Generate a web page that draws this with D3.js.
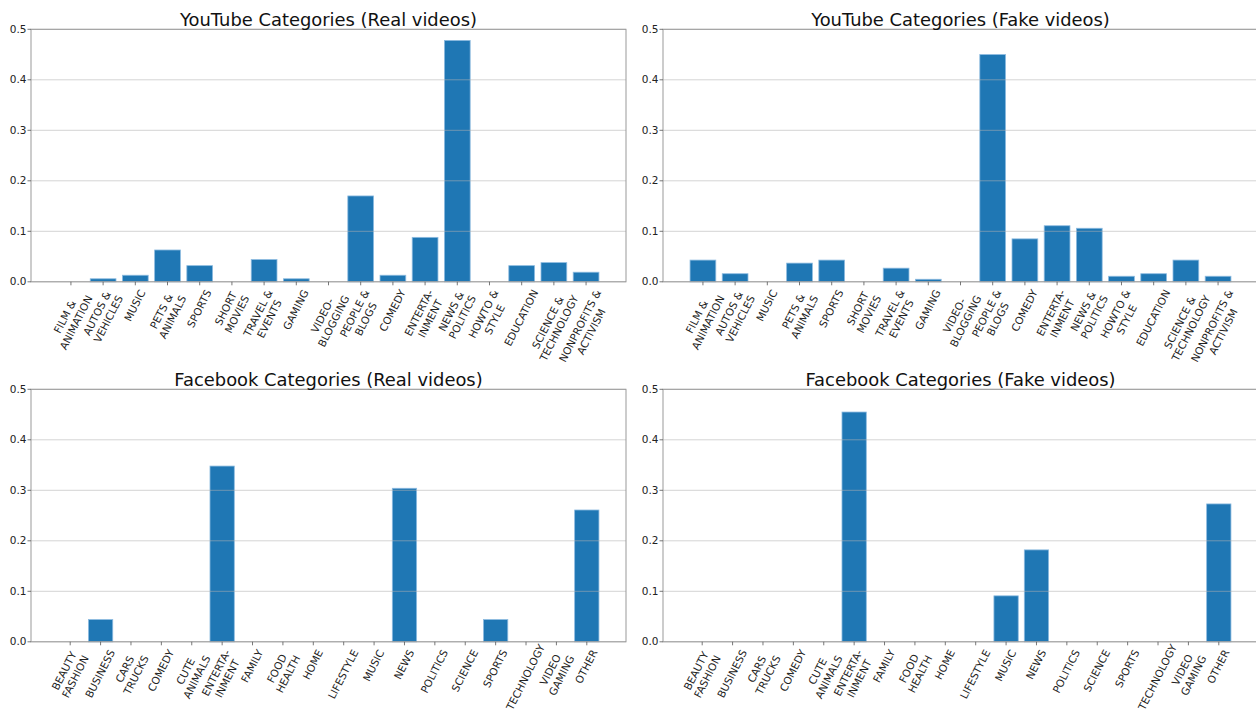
<!DOCTYPE html>
<html><head><meta charset="utf-8">
<script src="https://cdn.jsdelivr.net/npm/d3@7"></script>
<style>body{margin:0;background:#fff}svg{display:block;font-family:"DejaVu Sans",sans-serif}</style>
</head><body><svg id="c" width="1256" height="714"></svg>
<script>
const ytCategories = ["FILM &\nANIMATION", "AUTOS &\nVEHICLES", "MUSIC", "PETS &\nANIMALS", "SPORTS", "SHORT\nMOVIES", "TRAVEL &\nEVENTS", "GAMING", "VIDEO-\nBLOGGING", "PEOPLE &\nBLOGS", "COMEDY", "ENTERTA-\nINMENT", "NEWS &\nPOLITICS", "HOWTO &\nSTYLE", "EDUCATION", "SCIENCE &\nTECHNOLOGY", "NONPROFITS &\nACTIVISM"];
const ytReal = [0, 0.006, 0.013, 0.063, 0.032, 0, 0.044, 0.006, 0, 0.170, 0.013, 0.088, 0.478, 0, 0.032, 0.038, 0.019];
const ytFake = [0.043, 0.016, 0, 0.037, 0.043, 0, 0.027, 0.005, 0, 0.450, 0.085, 0.111, 0.106, 0.011, 0.016, 0.043, 0.011];
const fbCategories = ["BEAUTY\nFASHION", "BUSINESS", "CARS\nTRUCKS", "COMEDY", "CUTE\nANIMALS", "ENTERTA-\nINMENT", "FAMILY", "FOOD\nHEALTH", "HOME", "LIFESTYLE", "MUSIC", "NEWS", "POLITICS", "SCIENCE", "SPORTS", "TECHNOLOGY", "VIDEO\nGAMING", "OTHER"];
const fbReal = [0, 0.044, 0, 0, 0, 0.348, 0, 0, 0, 0, 0, 0.304, 0, 0, 0.044, 0, 0, 0.261];
const fbFake = [0, 0, 0, 0, 0, 0.455, 0, 0, 0, 0, 0.091, 0.182, 0, 0, 0, 0, 0, 0.273];
const yTicks = [0, 0.1, 0.2, 0.3, 0.4, 0.5];
const panelTitles = ["YouTube Categories (Real videos)", "YouTube Categories (Fake videos)", "Facebook Categories (Real videos)", "Facebook Categories (Fake videos)"];

const svg = d3.select("#c");
const BAR = "#1f77b4";
const W = 595, H = 252.5;
const ANG = 63;
const rot = ANG * Math.PI / 180;
const FS = 10.5;

function drawPanel(ox, oy, cats, vals, title) {
  const n = cats.length, m = 0.05 * (n - 0.2);
  const x = d3.scaleLinear().domain([-0.4 - m, n - 0.6 + m]).range([ox, ox + W]);
  const y = d3.scaleLinear().domain([0, 0.5]).range([oy + H, oy]);
  const g = svg.append("g");

  g.selectAll("rect.bar").data(vals).join("rect")
    .attr("class", "bar")
    .attr("x", (d, i) => x(i - 0.4))
    .attr("width", (d, i) => x(i + 0.4) - x(i - 0.4))
    .attr("y", d => y(d))
    .attr("height", d => y(0) - y(d))
    .attr("fill", BAR)
    .attr("stroke", d => d > 0 ? "#8dbbe0" : "none")
    .attr("stroke-width", 0.8);

  g.selectAll("line.grid").data(yTicks).join("line")
    .attr("x1", ox).attr("x2", ox + W)
    .attr("y1", d => y(d)).attr("y2", d => y(d))
    .attr("stroke", "#b0b0b0").attr("stroke-opacity", 0.55).attr("stroke-width", 1);

  g.append("rect").attr("x", ox).attr("y", oy).attr("width", W).attr("height", H)
    .attr("fill", "none").attr("stroke", "#999").attr("stroke-width", 1);

  yTicks.forEach(t => {
    g.append("line").attr("x1", ox - 3.5).attr("x2", ox).attr("y1", y(t)).attr("y2", y(t))
      .attr("stroke", "#555").attr("stroke-width", 0.8);
    g.append("text").attr("x", ox - 4.5).attr("y", y(t)).attr("dy", "0.35em")
      .attr("text-anchor", "end").attr("font-size", 10.5).attr("fill", "#222")
      .text(d3.format(".1f")(t));
  });

  cats.forEach((c, i) => {
    const cx = x(i);
    g.append("line").attr("x1", cx).attr("x2", cx).attr("y1", oy + H).attr("y2", oy + H + 3.5)
      .attr("stroke", "#555").attr("stroke-width", 0.8);
    const lines = c.split("\n");
    const lh = FS * 1.2;
    const lg = g.append("g");
    const t = lg.append("text").attr("font-size", FS).attr("fill", "#222").attr("text-anchor", "middle");
    const h = lines.length * lh;
    lines.forEach((ln, k) => {
      t.append("tspan").attr("x", 0).attr("y", -h / 2 + k * lh + FS * 0.9).text(ln);
    });
    let w = 0;
    t.selectAll("tspan").each(function () { w = Math.max(w, this.getComputedTextLength()); });
    const bh = w * Math.sin(rot) + h * Math.cos(rot);
    let cy = oy + H + 6 + bh / 2;
    cy = Math.min(cy, 712.5 - bh / 2);
    lg.attr("transform", `translate(${cx},${cy}) rotate(${-ANG})`);
  });

  g.append("text").attr("x", ox + W / 2).attr("y", oy - 3.5).attr("text-anchor", "middle")
    .attr("font-size", 17.9).attr("fill", "#111").text(title);
}

drawPanel(31, 29.3, ytCategories, ytReal, panelTitles[0]);
drawPanel(663, 29.3, ytCategories, ytFake, panelTitles[1]);
drawPanel(31, 389.3, fbCategories, fbReal, panelTitles[2]);
drawPanel(663, 389.3, fbCategories, fbFake, panelTitles[3]);
</script></body></html>
